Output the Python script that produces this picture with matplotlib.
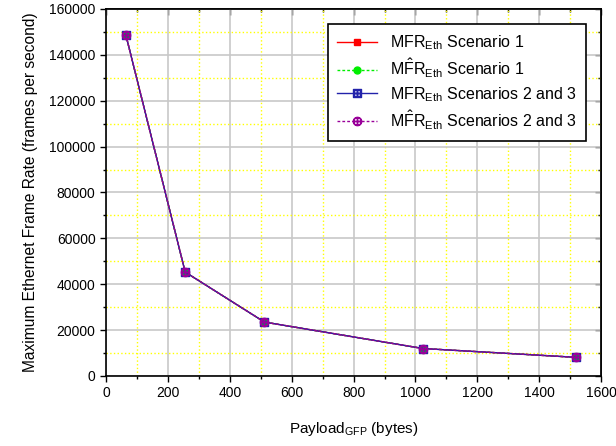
import matplotlib
matplotlib.use("Agg")
import matplotlib.pyplot as plt
from matplotlib.ticker import MultipleLocator

plt.rcParams['font.family'] = ['Liberation Sans', 'DejaVu Sans']
plt.rcParams['mathtext.fontset'] = 'custom'
plt.rcParams['mathtext.rm'] = 'Liberation Sans'
plt.rcParams['mathtext.it'] = 'Liberation Sans:italic'

# Data (100 Mb/s Ethernet frame sizes)
payload = [64, 256, 512, 1024, 1518]
mfr_s1 = [148810, 45290, 23496, 11973, 8127]
mfr_hat_s1 = [148810, 45290, 23496, 11973, 8127]
mfr_s23 = [148810, 45290, 23496, 11973, 8127]
mfr_hat_s23 = [148810, 45290, 23496, 11973, 8127]

labels = [r'MFR$_{\mathrm{Eth}}$ Scenario 1',
          r'M$\hat{\mathrm{F}}$R$_{\mathrm{Eth}}$ Scenario 1',
          r'MFR$_{\mathrm{Eth}}$ Scenarios 2 and 3',
          r'M$\hat{\mathrm{F}}$R$_{\mathrm{Eth}}$ Scenarios 2 and 3']

fig = plt.figure(figsize=(6.16, 4.46), dpi=100)
ax = fig.add_axes([0.172, 0.157, 0.804, 0.823])

ax.plot(payload, mfr_s1, color='red', linestyle='-', linewidth=1,
        marker='s', markersize=5, label=labels[0])
ax.plot(payload, mfr_hat_s1, color='#00ee00', linestyle=(0, (2, 1.5)), linewidth=1,
        marker='o', markersize=5, label=labels[1])
ax.plot(payload, mfr_s23, color='#2222aa', linestyle='-', linewidth=1,
        marker=r'$\boxplus$', markersize=6, label=labels[2])
ax.plot(payload, mfr_hat_s23, color='#990099', linestyle=(0, (2, 1.5)), linewidth=1,
        marker=r'$\oplus$', markersize=6, label=labels[3])

ax.set_xlim(0, 1600)
ax.set_ylim(0, 160000)
ax.xaxis.set_major_locator(MultipleLocator(200))
ax.xaxis.set_minor_locator(MultipleLocator(100))
ax.yaxis.set_major_locator(MultipleLocator(20000))
ax.yaxis.set_minor_locator(MultipleLocator(10000))

ax.grid(True, which='major', color='#c8c8c8', linestyle='-', linewidth=1.2)
ax.grid(True, which='minor', color='#ffff00', linestyle=':', linewidth=1)
ax.set_axisbelow(True)

ax.tick_params(which='both', direction='out', labelsize=10, width=1)
ax.tick_params(which='major', length=4)
ax.tick_params(which='minor', length=2)
# inward ticks on the top and right edges
axt = ax.secondary_xaxis('top')
axt.xaxis.set_major_locator(MultipleLocator(200))
axt.xaxis.set_minor_locator(MultipleLocator(100))
axt.tick_params(which='both', direction='in', labeltop=False, width=1)
axt.tick_params(which='major', length=4)
axt.tick_params(which='minor', length=2)
axr = ax.secondary_yaxis('right')
axr.yaxis.set_major_locator(MultipleLocator(20000))
axr.yaxis.set_minor_locator(MultipleLocator(10000))
axr.tick_params(which='both', direction='in', labelright=False, width=1)
axr.tick_params(which='major', length=4)
axr.tick_params(which='minor', length=2)
for a in (ax, axt, axr):
    for s in a.spines.values():
        s.set_linewidth(1.2)

ax.set_xlabel(r'Payload$_{\mathrm{GFP}}$ (bytes)', fontsize=11, labelpad=14)
ax.set_ylabel('Maximum Ethernet Frame Rate (frames per second)', fontsize=11.2, labelpad=8)

leg = ax.legend(loc='upper right', bbox_to_anchor=(0.970, 0.959), fontsize=11.5,
                frameon=True, fancybox=False, edgecolor='black', framealpha=1,
                handlelength=2.5, borderpad=0.6, labelspacing=0.3, borderaxespad=0)
leg.get_frame().set_linewidth(1.2)

plt.savefig('out.png', dpi=100)
plt.close()
